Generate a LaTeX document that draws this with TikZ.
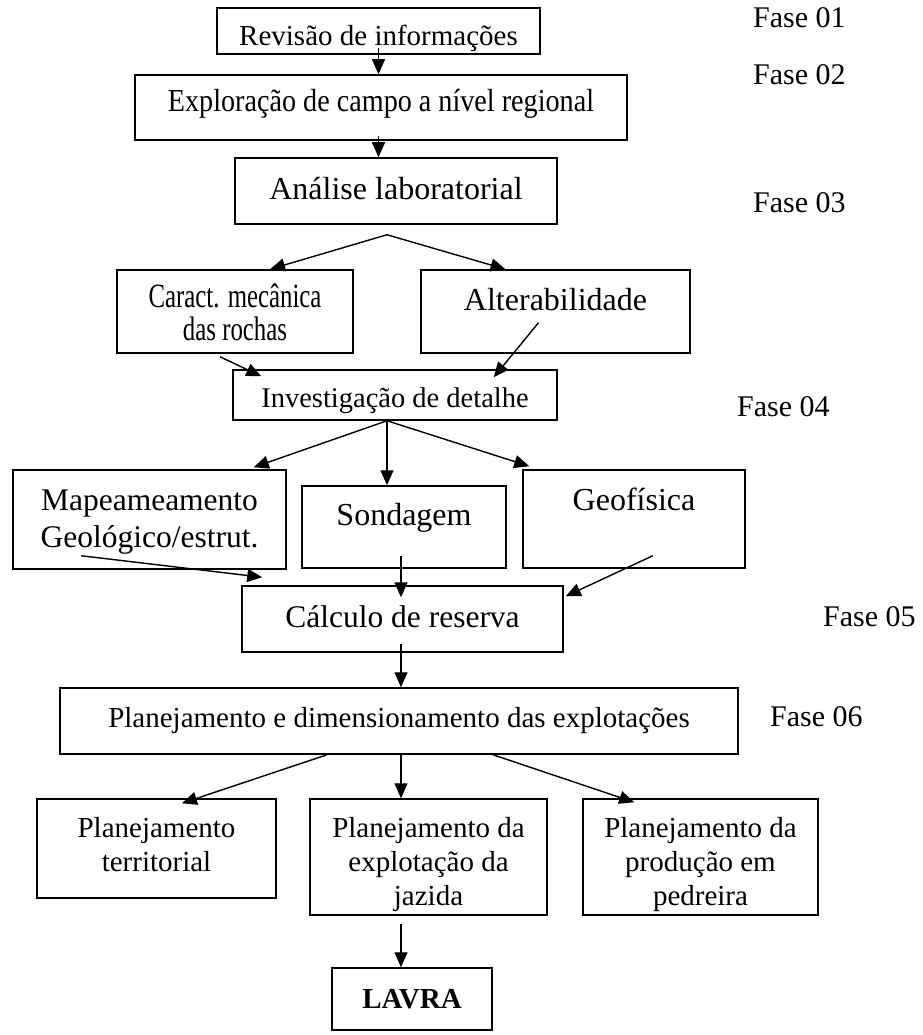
\documentclass[tikz,border=0pt]{standalone}
\usepackage{fontspec}
\setmainfont{Liberation Serif}
\usetikzlibrary{arrows.meta,calc}
\NewDocumentCommand{\boxtext}{ O{1} m m }{%
    \raisebox{#2pt}[0pt][0pt]{\scalebox{#1}[1]{\begin{tabular}[t]{@{}c@{}}#3\end{tabular}}}%
}

\begin{document}
\begin{tikzpicture}[x=1pt, y=-1pt,
        etapa/.style={draw, line width=1.5pt, inner sep=0pt},
        seta/.style={-{Triangle[length=15pt,width=13pt]}, line width=1.4pt},
        fase/.style={anchor=west, inner sep=0pt, font=\fontsize{30}{34}\selectfont}]
    \useasboundingbox (0,0) rectangle (922,1035);

    \node[etapa, minimum width=323pt, minimum height=46pt, font=\fontsize{29}{34}\selectfont] (revisao) at (378.5,31) {\boxtext{-15}{Revisão de informações}};
    \node[etapa, minimum width=492pt, minimum height=65pt, font=\fontsize{32}{37}\selectfont] (exploracao) at (381,107.5) {\boxtext[0.88]{-4.5}{Exploração de campo a nível regional}};
    \node[etapa, minimum width=322pt, minimum height=66pt, font=\fontsize{32}{37}\selectfont] (analise) at (396,191) {\boxtext{-9}{Análise laboratorial}};
    \node[etapa, minimum width=236pt, minimum height=83pt, font=\fontsize{34}{33}\selectfont] (caract) at (235,311.5) {\boxtext[0.73]{4.5}{Caract. mecânica\\das rochas}};
    \node[etapa, minimum width=269pt, minimum height=83pt, font=\fontsize{32}{37}\selectfont] (alter) at (555.5,311.5) {\boxtext{1.5}{Alterabilidade}};
    \node[etapa, minimum width=324pt, minimum height=50pt, font=\fontsize{28.5}{33}\selectfont] (investig) at (395,395) {\boxtext{-12}{Investigação de detalhe}};
    \node[etapa, minimum width=273pt, minimum height=99pt, font=\fontsize{31.5}{37}\selectfont] (mapeam) at (149.5,519.5) {\boxtext{9.5}{Mapeameamento\\Geológico/estrut.}};
    \node[etapa, minimum width=204pt, minimum height=82pt, font=\fontsize{32}{37}\selectfont] (sondagem) at (404,527) {\boxtext{2}{Sondagem}};
    \node[etapa, minimum width=222pt, minimum height=98pt, font=\fontsize{32}{37}\selectfont] (geofisica) at (634,519) {\boxtext{9}{Geofísica}};
    \node[etapa, minimum width=321pt, minimum height=66pt, font=\fontsize{31.5}{37}\selectfont] (calculo) at (402.5,619) {\boxtext{-8}{Cálculo de reserva}};
    \node[etapa, minimum width=678pt, minimum height=66pt, font=\fontsize{29}{34}\selectfont] (planej) at (399,721) {\boxtext{-6}{Planejamento e dimensionamento das explotações}};
    \node[etapa, minimum width=239pt, minimum height=99pt, font=\fontsize{29}{34}\selectfont] (territ) at (156.5,848.5) {\boxtext{11.5}{Planejamento\\territorial}};
    \node[etapa, minimum width=237pt, minimum height=116pt, font=\fontsize{29}{34}\selectfont] (jazida) at (428.5,857) {\boxtext{20}{Planejamento da\\explotação da\\jazida}};
    \node[etapa, minimum width=235pt, minimum height=116pt, font=\fontsize{29}{34}\selectfont] (pedreira) at (700.5,857) {\boxtext{20}{Planejamento da\\produção em\\pedreira}};
    \node[etapa, minimum width=160pt, minimum height=62pt, font=\fontsize{29}{34}\selectfont\bfseries] (lavra) at (412,999) {\boxtext{-9}{LAVRA}};

    \node[fase] (f01) at (753,18) {Fase 01};
    \node[fase] (f02) at (753,75) {Fase 02};
    \node[fase] (f03) at (753,203) {Fase 03};
    \node[fase] (f04) at (737,407) {Fase 04};
    \node[fase] (f05) at (823,617) {Fase 05};
    \node[fase] (f06) at (770,717) {Fase 06};

    \coordinate (ramo1) at ($(analise.south)+(-9,10)$);
    \coordinate (ramo2) at ($(investig.south)+(-8,0)$);

    \draw[seta] ($(revisao.south)+(0,-7)$) -- (exploracao.north -| revisao.south);
    \draw[seta] ($(exploracao.south -| revisao.south)+(0,-5)$) -- (analise.north -| revisao.south);
    \draw[seta] (ramo1) -- ($(caract.north)+(35,0)$);
    \draw[seta] (ramo1) -- ($(alter.north)+(-50,0)$);
    \draw[seta] ($(caract.south)+(-15,3)$) -- ($(investig.north west)+(29,7)$);
    \draw[seta] ($(alter.south)+(-17,-31)$) -- ($(investig.north east)+(-64,8)$);
    \draw[seta] (ramo2) -- ($(mapeam.north east)+(-33,-2)$);
    \draw[seta] (ramo2) -- (sondagem.north -| ramo2);
    \draw[seta] (ramo2) -- ($(geofisica.north west)+(7,-3)$);
    \draw[seta] ($(mapeam.south west)+(69,-14)$) -- ($(calculo.north west)+(21,-8)$);
    \draw[seta] ($(sondagem.south)+(-3,-13)$) -- ($(calculo.north)+(-1.5,12)$);
    \draw[seta] ($(geofisica.south east)+(-93,-13)$) -- ($(calculo.north east)+(2,11)$);
    \draw[seta] ($(calculo.south)+(-1.5,-9)$) -- ($(planej.north)+(2,0)$);
    \draw[seta] ($(planej.south)+(-72,0)$) -- ($(territ.north)+(25.5,5)$);
    \draw[seta] ($(planej.south)+(2,0)$) -- ($(jazida.north)+(-27.5,0)$);
    \draw[seta] ($(planej.south)+(94,0)$) -- ($(pedreira.north west)+(52,4)$);
    \draw[seta] ($(jazida.south)+(-27.5,8)$) -- ($(lavra.north)+(-11,0)$);
\end{tikzpicture}
\end{document}
